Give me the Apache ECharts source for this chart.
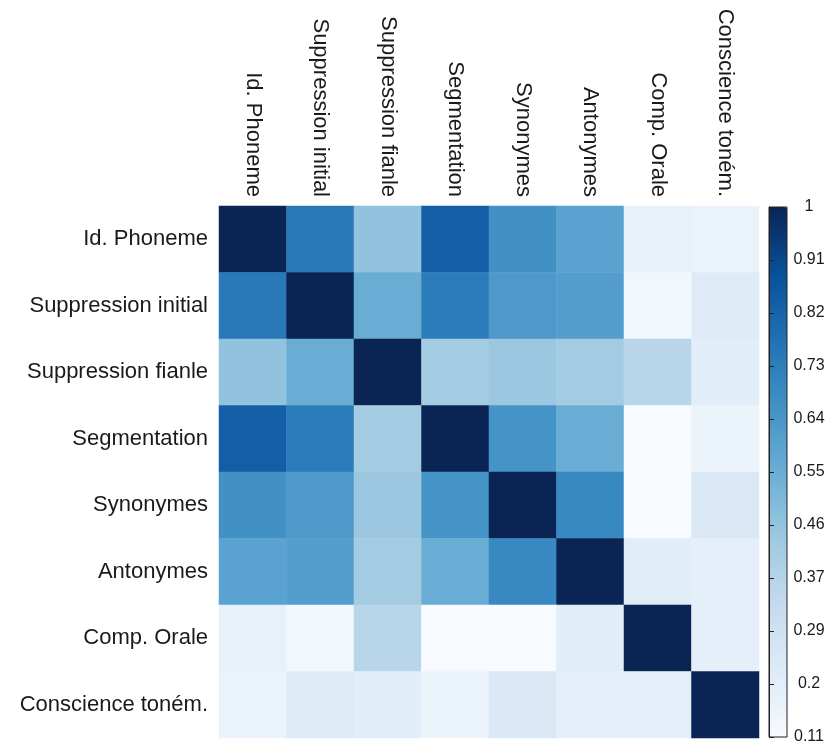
<!DOCTYPE html>
<html>
<head>
<meta charset="utf-8">
<script src="https://cdn.jsdelivr.net/npm/echarts@6/dist/echarts.min.js"></script>
<style>
  html, body { margin: 0; padding: 0; background: #ffffff; }
  #chart { width: 830px; height: 745px; }
</style>
</head>
<body>
<div id="chart"></div>
<script>
// Test names (rows and columns share the same order)
const variables = [
  'Id. Phoneme',
  'Suppression initial',
  'Suppression fianle',
  'Segmentation',
  'Synonymes',
  'Antonymes',
  'Comp. Orale',
  'Conscience toném.'
];

// Correlation matrix, one row per variable
const rowIdPhoneme      = [1.00, 0.75, 0.47, 0.84, 0.67, 0.60, 0.18, 0.17];
const rowSuppInitial    = [0.75, 1.00, 0.56, 0.74, 0.64, 0.62, 0.14, 0.22];
const rowSuppFinale     = [0.47, 0.56, 1.00, 0.43, 0.45, 0.43, 0.37, 0.21];
const rowSegmentation   = [0.84, 0.74, 0.43, 1.00, 0.66, 0.56, 0.11, 0.16];
const rowSynonymes      = [0.67, 0.64, 0.45, 0.66, 1.00, 0.70, 0.11, 0.24];
const rowAntonymes      = [0.60, 0.62, 0.43, 0.56, 0.70, 1.00, 0.21, 0.19];
const rowCompOrale      = [0.18, 0.14, 0.37, 0.11, 0.11, 0.21, 1.00, 0.19];
const rowConscience     = [0.17, 0.22, 0.21, 0.16, 0.24, 0.19, 0.19, 1.00];

const matrixRows = [
  rowIdPhoneme, rowSuppInitial, rowSuppFinale, rowSegmentation,
  rowSynonymes, rowAntonymes, rowCompOrale, rowConscience
];

// Colour scale range and colorbar tick labels
const scaleMin = 0.11;
const scaleMax = 1;
const colorbarTicks = ['0.11', '0.2', '0.29', '0.37', '0.46', '0.55', '0.64', '0.73', '0.82', '0.91', '1'];

// Sequential blue palette, ending in deep navy
const blues = ['#f7fbff', '#deebf7', '#c6dbef', '#9ecae1', '#6baed6', '#4292c6', '#2171b5', '#08519c', '#0a2454'];

const cells = [];
matrixRows.forEach((row, r) => {
  row.forEach((v, c) => cells.push([c, r, v]));
});

const font = 'Liberation Sans, Arial, Helvetica, sans-serif';
const textColor = '#1a1a1a';

const chart = echarts.init(document.getElementById('chart'), null, { renderer: 'canvas' });

chart.setOption({
  backgroundColor: '#ffffff',
  animation: false,
  grid: [
    { left: 219, top: 206, width: 540, height: 532, containLabel: false },
    {
      left: 769, top: 207, width: 18, height: 533,
      show: true, backgroundColor: 'transparent',
      borderColor: '#222', borderWidth: 1, z: 10
    }
  ],
  xAxis: [
    {
      type: 'category', gridIndex: 0, data: variables, position: 'top',
      axisLine: { show: false }, axisTick: { show: false }, splitLine: { show: false },
      axisLabel: {
        rotate: 90, margin: 9, interval: 0,
        fontFamily: font, fontSize: 22, color: textColor
      }
    },
    { type: 'value', gridIndex: 1, show: false, min: 0, max: 1 }
  ],
  yAxis: [
    {
      type: 'category', gridIndex: 0, data: variables, inverse: true,
      axisLine: { show: false }, axisTick: { show: false }, splitLine: { show: false },
      axisLabel: {
        margin: 11, interval: 0,
        fontFamily: font, fontSize: 22, color: textColor
      }
    },
    {
      type: 'value', gridIndex: 1, position: 'right',
      min: 0, max: colorbarTicks.length - 1, interval: 1,
      z: 10,
      axisLine: { show: true, lineStyle: { color: '#222', width: 1 } },
      axisTick: { show: true, length: 5, inside: false, lineStyle: { color: '#222' } },
      splitLine: { show: false },
      axisLabel: {
        margin: 22, align: 'center',
        padding: [6, 0, 0, 0],
        fontFamily: font, fontSize: 16, color: textColor,
        formatter: (v) => colorbarTicks[Math.round(v)]
      }
    }
  ],
  visualMap: {
    type: 'continuous',
    min: scaleMin, max: scaleMax,
    calculable: false,
    seriesIndex: 0,
    orient: 'vertical',
    left: 769, top: 207,
    itemWidth: 18, itemHeight: 533,
    padding: 0,
    text: null,
    showLabel: false,
    hoverLink: false,
    z: 1,
    inRange: { color: blues }
  },
  series: [
    {
      type: 'heatmap',
      xAxisIndex: 0, yAxisIndex: 0,
      data: cells,
      itemStyle: { borderWidth: 0 },
      emphasis: { disabled: true },
      label: { show: false }
    }
  ]
});
</script>
</body>
</html>
